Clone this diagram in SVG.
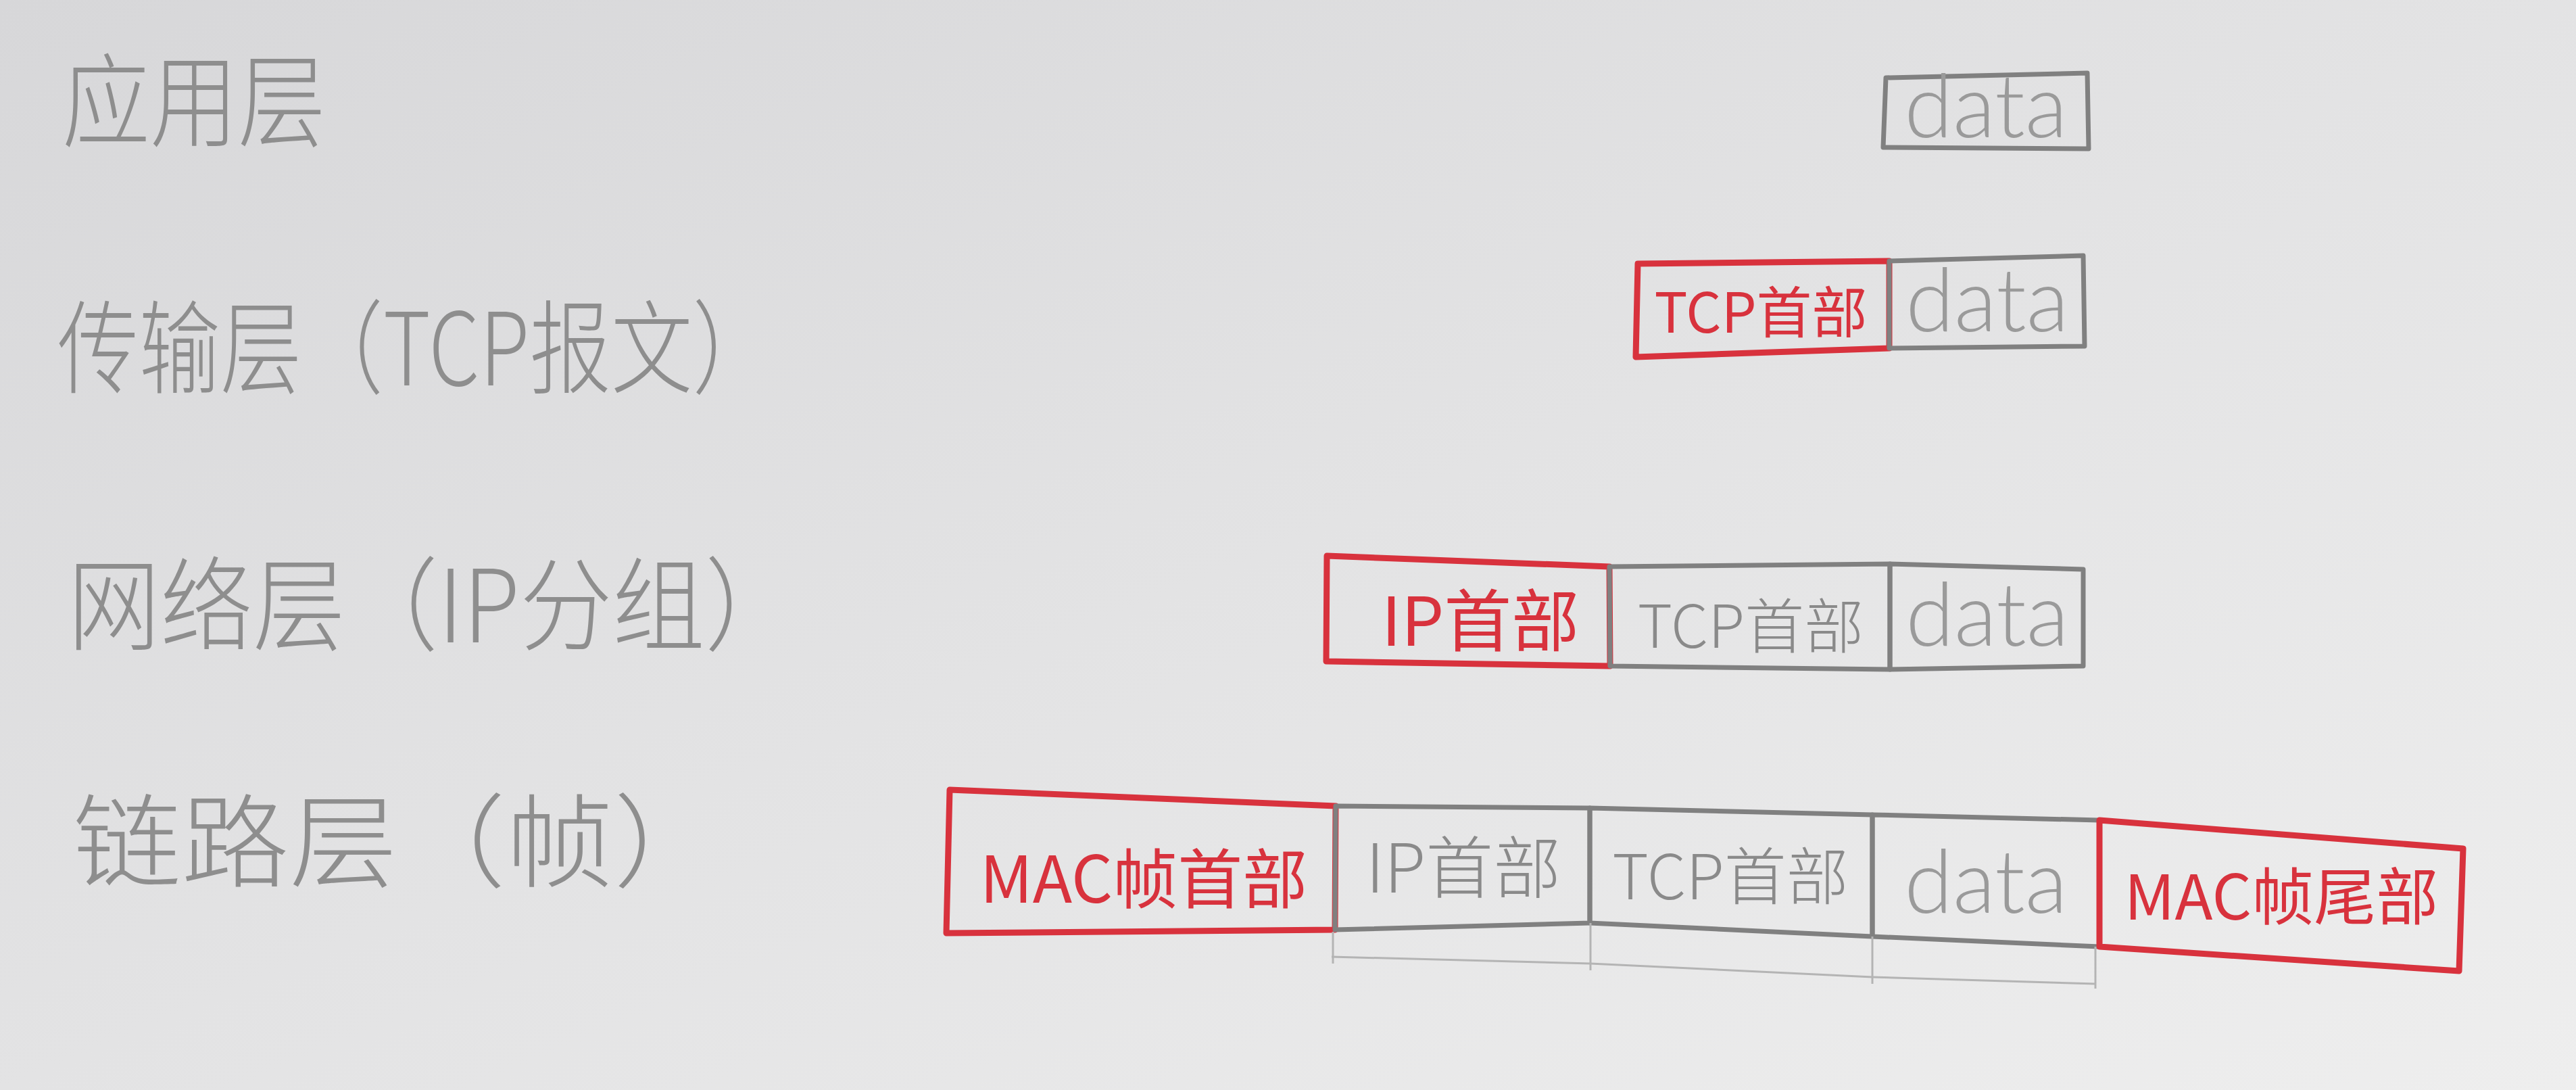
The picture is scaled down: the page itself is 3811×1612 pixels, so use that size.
<svg xmlns="http://www.w3.org/2000/svg" width="3811" height="1612" viewBox="0 0 3811 1612">
<defs>
<linearGradient id="bg" x1="0" y1="0" x2="1" y2="1">
<stop offset="0" stop-color="#d7d7d9"/>
<stop offset="0.5" stop-color="#e3e3e4"/>
<stop offset="1" stop-color="#eeeeee"/>
</linearGradient>
<style>
.lbl{font-family:"Noto Sans CJK SC","Liberation Sans",sans-serif;font-size:150px;fill:#8e8e8e;font-weight:300}
.red{fill:none;stroke:#d8323d;stroke-width:9;stroke-linejoin:round}
.gry{fill:none;stroke:#808080;stroke-width:7;stroke-linejoin:round}
.rt{font-family:"Noto Sans CJK SC","Liberation Sans",sans-serif;font-size:100px;fill:#d8323d;text-anchor:middle}
.gt{font-family:"Noto Sans CJK SC","Liberation Sans",sans-serif;font-size:100px;fill:#8a8a8a;text-anchor:middle;font-weight:300}
.dt{font-family:Lato,"Liberation Sans",sans-serif;font-size:130px;fill:#9a9a9a;text-anchor:middle;font-weight:300}
.faint{fill:none;stroke:#b4b4b4;stroke-width:3}
</style>
</defs>
<rect width="3811" height="1612" fill="url(#bg)"/>

<g id="labels">
<text id="lbl-app" class="lbl" x="92" y="205" textLength="390" lengthAdjust="spacingAndGlyphs">应用层</text>
<text id="lbl-transport" class="lbl" x="85" y="570" textLength="1060" lengthAdjust="spacingAndGlyphs">传输层（TCP报文）</text>
<text id="lbl-network" class="lbl" x="100" y="950" textLength="1080" lengthAdjust="spacingAndGlyphs">网络层（IP分组）</text>
<text id="lbl-link" class="lbl" x="108" y="1300" textLength="960" lengthAdjust="spacingAndGlyphs">链路层（帧）</text>
</g>

<g id="row1">
<g id="r1-data">
<polygon class="gry" points="2790,115 3088,108 3090,220 2786,218"/>
<text class="dt" x="2938" y="203">data</text>
</g>
</g>

<g id="row2">
<g id="r2-tcp">
<polygon class="red" points="2423,390 2795,386 2795,515 2420,528"/>
<text class="rt" x="2605" y="492" style="font-size:82px">TCP首部</text>
</g>
<g id="r2-data">
<polygon class="gry" points="2795,386 3082,378 3084,512 2795,515"/>
<text class="dt" x="2940" y="490">data</text>
</g>
</g>

<g id="row3">
<g id="r3-ip">
<polygon class="red" points="1963,822 2381,838 2382,985 1962,978"/>
<text class="rt" x="2190" y="955">IP首部</text>
</g>
<g id="r3-tcp">
<polygon class="gry" points="2381,838 2796,834 2796,990 2382,985"/>
<text class="gt" x="2590" y="958" style="font-size:88px">TCP首部</text>
</g>
<g id="r3-data">
<polygon class="gry" points="2796,834 3082,842 3082,985 2796,990"/>
<text class="dt" x="2940" y="955">data</text>
</g>
</g>

<g id="row4">
<g id="r4-machead">
<polygon class="red" points="1405,1168 1976,1192 1975,1375 1400,1380"/>
<text class="rt" x="1692" y="1335" style="font-size:96px">MAC帧首部</text>
</g>
<g id="r4-ip">
<polygon class="gry" points="1976,1192 2352,1195 2352,1365 1975,1375"/>
<text class="gt" x="2165" y="1320">IP首部</text>
</g>
<g id="r4-tcp">
<polygon class="gry" points="2352,1195 2770,1205 2770,1385 2352,1365"/>
<text class="gt" x="2560" y="1330" style="font-size:92px">TCP首部</text>
</g>
<g id="r4-data">
<polygon class="gry" points="2770,1205 3106,1213 3106,1400 2770,1385"/>
<text class="dt" x="2938" y="1350">data</text>
</g>
<g id="r4-mactail">
<polygon class="red" points="3106,1213 3644,1255 3638,1436 3106,1400"/>
<text class="rt" x="3375" y="1360" style="font-size:92px">MAC帧尾部</text>
</g>
</g>

<g id="connectors">
<polyline class="faint" points="1970,1415 2353,1425 2770,1445 3100,1455"/>
<line class="faint" x1="1972" y1="1378" x2="1972" y2="1425"/>
<line class="faint" x1="2353" y1="1365" x2="2353" y2="1435"/>
<line class="faint" x1="2770" y1="1385" x2="2770" y2="1455"/>
<line class="faint" x1="3100" y1="1400" x2="3100" y2="1462"/>
</g>
</svg>
